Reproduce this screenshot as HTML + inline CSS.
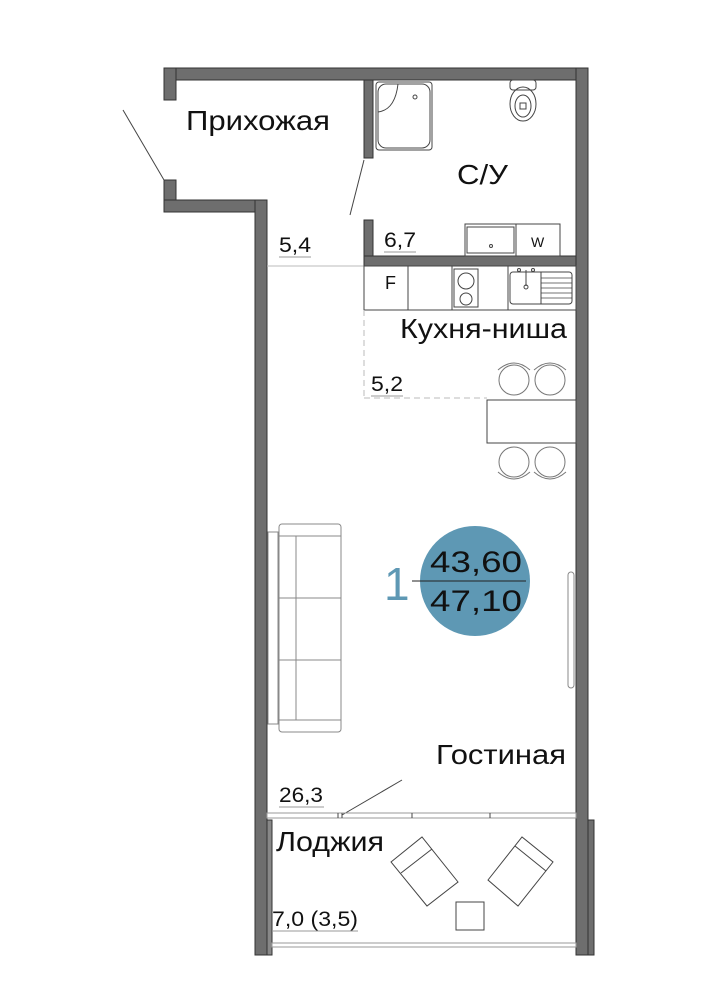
<!DOCTYPE html>
<html><head><meta charset="utf-8"><style>
body{margin:0;background:#fff}
svg{display:block}
text{font-family:"Liberation Sans","Noto Sans CJK SC",sans-serif;fill:#111}
</style></head><body>
<svg width="707" height="1000" viewBox="0 0 707 1000" xmlns="http://www.w3.org/2000/svg">
<g fill="#6e6e6e" stroke="#333" stroke-width="1">
<rect x="164" y="68" width="424" height="12"/>
<rect x="164" y="68" width="12" height="32"/>
<rect x="164" y="180" width="12" height="32"/>
<rect x="164" y="200" width="103" height="12"/>
<rect x="255" y="200" width="12" height="755"/>
<rect x="576" y="68" width="12" height="887"/>
<rect x="588" y="820" width="6" height="135"/>
<rect x="364" y="80" width="9" height="78"/>
<rect x="364" y="220" width="9" height="46"/>
<rect x="364" y="256" width="212" height="10"/>
<rect x="267" y="820" width="5" height="135" fill="#888"/>
</g>
<g fill="none" stroke="#444" stroke-width="1">
<line x1="123" y1="110" x2="164" y2="180"/>
<line x1="364" y1="160" x2="350" y2="215"/>
<line x1="267" y1="266" x2="364" y2="266" stroke="#bbb"/>
<rect x="376" y="82" width="56" height="68" rx="3"/>
<rect x="378" y="84" width="52" height="64" rx="8"/>
<path d="M378 112 Q395 110 398 84"/>
<circle cx="415" cy="97" r="2"/>
<rect x="510" y="80" width="26" height="10" rx="3"/>
<ellipse cx="523" cy="104" rx="13" ry="17"/>
<ellipse cx="523" cy="106" rx="8" ry="11"/>
<rect x="520" y="103" width="6" height="6"/>
<rect x="465" y="224" width="51" height="32"/>
<rect x="467" y="227" width="47" height="26"/>
<circle cx="491" cy="246" r="1.5"/>
<rect x="516" y="224" width="44" height="32"/>
<rect x="364" y="266" width="212" height="44"/>
<line x1="408" y1="266" x2="408" y2="310"/>
<line x1="452" y1="266" x2="452" y2="310"/>
<rect x="454" y="269" width="24" height="38"/>
<circle cx="466" cy="281" r="8"/>
<circle cx="466" cy="299" r="6"/>
<line x1="508" y1="266" x2="508" y2="310"/>
<rect x="510" y="272" width="62" height="32" rx="3"/>
<line x1="541" y1="272" x2="541" y2="304"/>
<g stroke-width=".7"><line x1="541" y1="278" x2="572" y2="278"/><line x1="541" y1="283" x2="572" y2="283"/><line x1="541" y1="288" x2="572" y2="288"/><line x1="541" y1="293" x2="572" y2="293"/><line x1="541" y1="298" x2="572" y2="298"/></g>
<line x1="526" y1="270" x2="526" y2="286"/>
<circle cx="526" cy="287" r="2"/>
<circle cx="519" cy="270" r="1.5"/><circle cx="533" cy="270" r="1.5"/>
<line x1="364" y1="310" x2="364" y2="398" stroke="#bbb" stroke-dasharray="6 4"/>
<line x1="364" y1="398" x2="487" y2="398" stroke="#bbb" stroke-dasharray="6 4"/>
<rect x="487" y="400" width="89" height="43"/>
<g stroke="#777">
<circle cx="514" cy="380" r="15"/><path d="M498 370 Q514 356 530 370"/>
<circle cx="550" cy="380" r="15"/><path d="M534 370 Q550 356 566 370"/>
<circle cx="514" cy="462" r="15"/><path d="M498 472 Q514 486 530 472"/>
<circle cx="550" cy="462" r="15"/><path d="M534 472 Q550 486 566 472"/>
</g>
<g stroke="#888">
<rect x="279" y="524" width="62" height="208" rx="3"/>
<rect x="268" y="532" width="10" height="192"/>
<line x1="279" y1="536" x2="341" y2="536"/>
<line x1="279" y1="720" x2="341" y2="720"/>
<line x1="296" y1="536" x2="296" y2="720"/>
<line x1="279" y1="598" x2="341" y2="598"/>
<line x1="279" y1="660" x2="341" y2="660"/>
</g>
<rect x="568" y="572" width="6" height="116" rx="3" stroke="#888"/>
<line x1="279" y1="257" x2="311" y2="257" stroke="#999"/>
<line x1="384" y1="252" x2="416" y2="252" stroke="#999"/>
<line x1="371" y1="396" x2="403" y2="396" stroke="#999"/>
<line x1="279" y1="807" x2="324" y2="807" stroke="#999"/>
<line x1="272" y1="931" x2="358" y2="931" stroke="#999"/>
<line x1="342" y1="815" x2="402" y2="780"/>
<rect x="267" y="813" width="309" height="5" stroke="#999"/>
<line x1="338" y1="813" x2="338" y2="818"/><line x1="342" y1="813" x2="342" y2="818"/>
<line x1="412" y1="813" x2="412" y2="818"/><line x1="490" y1="813" x2="490" y2="818"/>
<rect x="272" y="943" width="304" height="4" stroke="#999"/>
<polygon points="391,862 422,837 458,882 427,906"/>
<line x1="401" y1="873" x2="432" y2="849"/>
<polygon points="488,880 522,837 553,862 518,906"/>
<line x1="515" y1="846" x2="546" y2="871"/>
<rect x="456" y="902" width="28" height="28"/>
</g>
<g font-size="18">
<text x="385" y="289">F</text>
<text x="531" y="247" font-size="14">W</text>
</g>
<g font-size="28">
<text x="186" y="130" textLength="144" lengthAdjust="spacingAndGlyphs">Прихожая</text>
<text x="457" y="184" textLength="51" lengthAdjust="spacingAndGlyphs">С/У</text>
<text x="400" y="338" textLength="167" lengthAdjust="spacingAndGlyphs">Кухня-ниша</text>
<text x="436" y="764" textLength="130" lengthAdjust="spacingAndGlyphs">Гостиная</text>
<text x="276" y="851" textLength="108" lengthAdjust="spacingAndGlyphs">Лоджия</text>
</g>
<g font-size="21">
<text x="279" y="252" textLength="32" lengthAdjust="spacingAndGlyphs">5,4</text>
<text x="384" y="247" textLength="32" lengthAdjust="spacingAndGlyphs">6,7</text>
<text x="371" y="391" textLength="32" lengthAdjust="spacingAndGlyphs">5,2</text>
<text x="279" y="802" textLength="44" lengthAdjust="spacingAndGlyphs">26,3</text>
<text x="272" y="926" textLength="86" lengthAdjust="spacingAndGlyphs">7,0 (3,5)</text>
</g>
<circle cx="475" cy="581" r="55" fill="#5e98b4"/>
<line x1="412" y1="581" x2="526" y2="581" stroke="#222" stroke-width="1"/>
<text x="476" y="572" font-size="30" text-anchor="middle" textLength="92" lengthAdjust="spacingAndGlyphs">43,60</text>
<text x="476" y="611" font-size="30" text-anchor="middle" textLength="92" lengthAdjust="spacingAndGlyphs">47,10</text>
<text x="384" y="600" font-size="46" style="fill:#5e98b4">1</text>
</svg>
</body></html>
